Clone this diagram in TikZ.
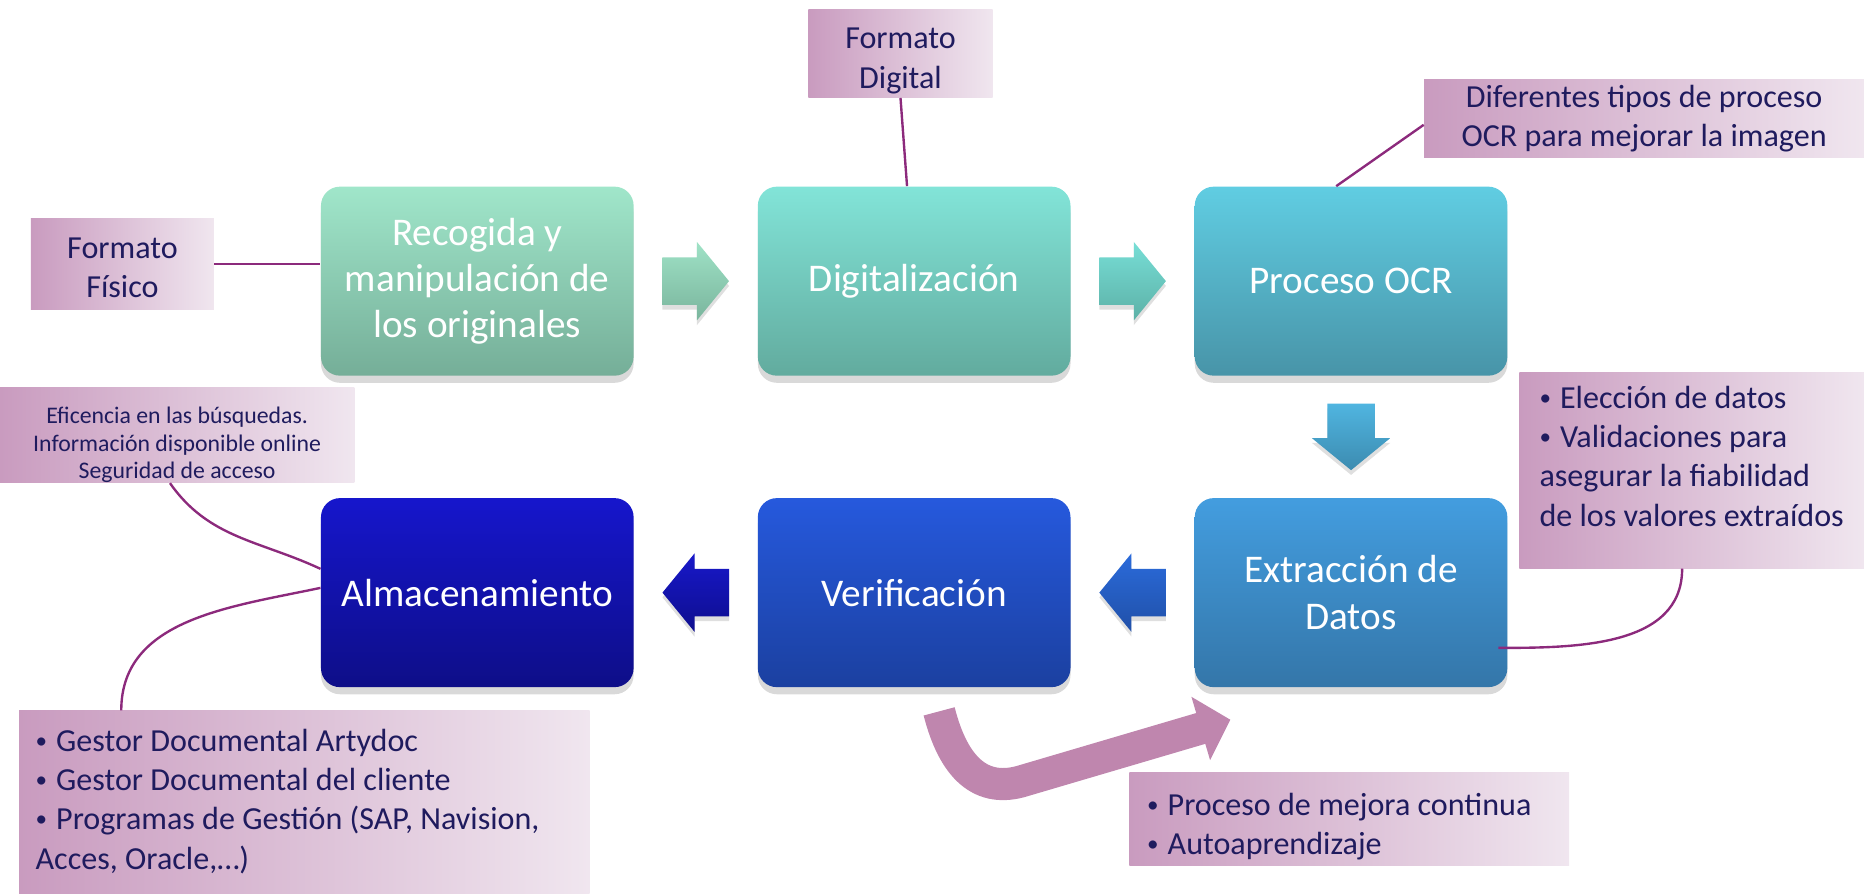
\documentclass[tikz,border=0pt]{standalone}
\usepackage{fontspec}
\setmainfont{Carlito}
\usetikzlibrary{shadows,arrows.meta,calc}
\definecolor{navy}{HTML}{1F1B5E}
\definecolor{linkc}{HTML}{8C2A7C}
\definecolor{lblL}{HTML}{C99BBF}
\definecolor{lblR}{HTML}{F0E6EF}
\definecolor{bigpink}{HTML}{BF86AE}
\definecolor{gat}{HTML}{A0E6CA}\definecolor{gab}{HTML}{75AE98}
\definecolor{gbt}{HTML}{82E4D8}\definecolor{gbb}{HTML}{62AB9E}
\definecolor{gct}{HTML}{60CDE2}\definecolor{gcb}{HTML}{4894A8}
\definecolor{gdt}{HTML}{439DDF}\definecolor{gdb}{HTML}{3476A9}
\definecolor{get}{HTML}{2659DD}\definecolor{geb}{HTML}{1B40A0}
\definecolor{gft}{HTML}{1616CC}\definecolor{gfb}{HTML}{0E0E88}
\definecolor{aat}{HTML}{9FE2C6}\definecolor{aab}{HTML}{7AB59D}
\definecolor{abt}{HTML}{77DED6}\definecolor{abb}{HTML}{5DB1A7}
\definecolor{act}{HTML}{50B5E0}\definecolor{acb}{HTML}{3C8BB0}
\definecolor{adt}{HTML}{2B6BDB}\definecolor{adb}{HTML}{2050A8}
\definecolor{aet}{HTML}{1818CA}\definecolor{aeb}{HTML}{0E0E8E}
\tikzset{
  mainbox/.style={rounded corners=8pt, minimum width=131.5pt, minimum height=79.5pt,
    text=white, align=center, font=\fontsize{16.5}{19.5}\selectfont, inner sep=2pt,
    drop shadow={shadow xshift=0pt, shadow yshift=-3pt, opacity=0.3}},
  lbl/.style={left color=lblL, right color=lblR, text=navy, inner sep=0pt,
    font=\fontsize{13.5}{16.5}\selectfont},
  link/.style={draw=linkc, line width=1pt},
  barrow/.style={drop shadow={shadow xshift=0pt, shadow yshift=-2pt, opacity=0.25}},
}
% shifted text block: #1 vertical shift, #2 column spec, #3 lines
\newcommand{\shtext}[3]{\raisebox{#1}[\height][\depth]{\begin{tabular}{@{}#2@{}}#3\end{tabular}}}
\newcommand{\bul}{\raisebox{0.1em}{\scalebox{0.72}{•}}\hspace{0.28em}}
\newcommand{\hblockarrow}[4]{%
  \begin{scope}[shift={(#1)}, xscale=#2]
    \shade[barrow, top color=#3, bottom color=#4]
      (-28,-20) -- (1,-20) -- (1,-33) -- (28,0) -- (1,33) -- (1,20) -- (-28,20) -- cycle;
  \end{scope}}
\begin{document}
\begin{tikzpicture}[x=0.5pt,y=-0.5pt]
\useasboundingbox (0,0) rectangle (1568,752);

% main process boxes
\node[mainbox, top color=gat, bottom color=gab] (b1) at (401.5,236.5) {Recogida y\\manipulación de\\los originales};
\node[mainbox, top color=gbt, bottom color=gbb] (b2) at (769,236.5) {Digitalización};
\node[mainbox, top color=gct, bottom color=gcb] (b3) at (1136.5,236.5) {Proceso OCR};
\node[mainbox, top color=gdt, bottom color=gdb] (b4) at (1136.5,498.5) {Extracción de\\Datos};
\node[mainbox, top color=get, bottom color=geb] (b5) at (769,498.5) {Verificación};
\node[mainbox, top color=gft, bottom color=gfb] (b6) at (401.5,498.5) {Almacenamiento};

% block arrows
\coordinate (a1) at ($(b1.east)!0.5!(b2.west)$);
\coordinate (a2) at ($(b2.east)!0.5!(b3.west)$);
\coordinate (a3) at ($(b3.south)!0.5!(b4.north)$);
\coordinate (a4) at ($(b5.east)!0.5!(b4.west)$);
\coordinate (a5) at ($(b6.east)!0.5!(b5.west)$);
\hblockarrow{a1}{1}{aat}{aab}
\hblockarrow{a2}{1}{abt}{abb}
\hblockarrow{a4}{-1}{adt}{adb}
\hblockarrow{a5}{-1}{aet}{aeb}
\begin{scope}[shift={(a3)}]
  \shade[barrow, top color=act, bottom color=acb]
    (-20,-28) -- (20,-28) -- (20,1) -- (33,1) -- (0,28) -- (-33,1) -- (-20,1) -- cycle;
\end{scope}

% labels
\node[lbl, minimum width=77pt, minimum height=38pt] (lf) at (103,222) {\shtext{-2.5pt}{c}{Formato\\Físico}};
\node[lbl, minimum width=77.5pt, minimum height=37pt] (ld) at (757.5,45) {\shtext{-3pt}{c}{Formato\\Digital}};
\node[lbl, minimum width=185pt, minimum height=31.5pt] (lo) at (1383,99.5) {\shtext{-0.5pt}{c}{Diferentes tipos de proceso\\OCR para mejorar la imagen}};
\node[lbl, minimum width=145pt, minimum height=82.5pt] (le) at (1423,395.5) {\shtext{4.5pt}{l}{\bul Elección de datos\\\bul Validaciones para\\asegurar la fiabilidad\\de los valores extraídos}};
\node[lbl, minimum width=149pt, minimum height=40pt, font=\fontsize{10}{11.5}\selectfont] (lef) at (149,366) {\shtext{-4.5pt}{c}{Eficencia en las búsquedas.\\Información disponible online\\Seguridad de acceso}};
\node[lbl, minimum width=240pt, minimum height=77pt] (lb) at (256,675) {\shtext{0pt}{p{226pt}}{\bul Gestor Documental Artydoc\\\bul Gestor Documental del cliente\\\bul Programas de Gestión (SAP, Navision,\\Acces, Oracle,…)}};
\node[lbl, minimum width=185pt, minimum height=39pt] (lp) at (1135,689) {\shtext{-3.5pt}{p{170pt}}{\bul Proceso de mejora continua\\\bul Autoaprendizaje}};

% links
\draw[link] (lf.east) -- (lf.east -| b1.west);
\draw[link] (ld.south) -- ([xshift=-3pt]b2.north);
\draw[link] ([yshift=-2.75pt]lo.west) -- ([xshift=-6.25pt]b3.north);
\draw[link] ([xshift=-4pt]le.south) to[out=-90,in=0] ([xshift=-4pt,yshift=-23.25pt]b4.east);
\draw[link] ([xshift=-3pt]lef.south) to[out=-55,in=155] ([yshift=10pt]b6.west);
\draw[link] ([yshift=2pt]b6.west) to[out=192,in=90] ([xshift=-77pt]lb.north);

% improvement loop arrow
\coordinate (ps) at ([xshift=10.5pt,yshift=-10pt]b5.south);
\coordinate (pe) at ([xshift=-50.75pt,yshift=-13.5pt]b4.south);
\draw[bigpink, line width=13.5pt, -{Triangle[length=13pt,width=27pt]}]
  (ps) .. controls ($(ps)+(12,47)$) and ($(ps)+(35,70)$) .. ($(ps)+(72,58)$) -- (pe);
\end{tikzpicture}
\end{document}
